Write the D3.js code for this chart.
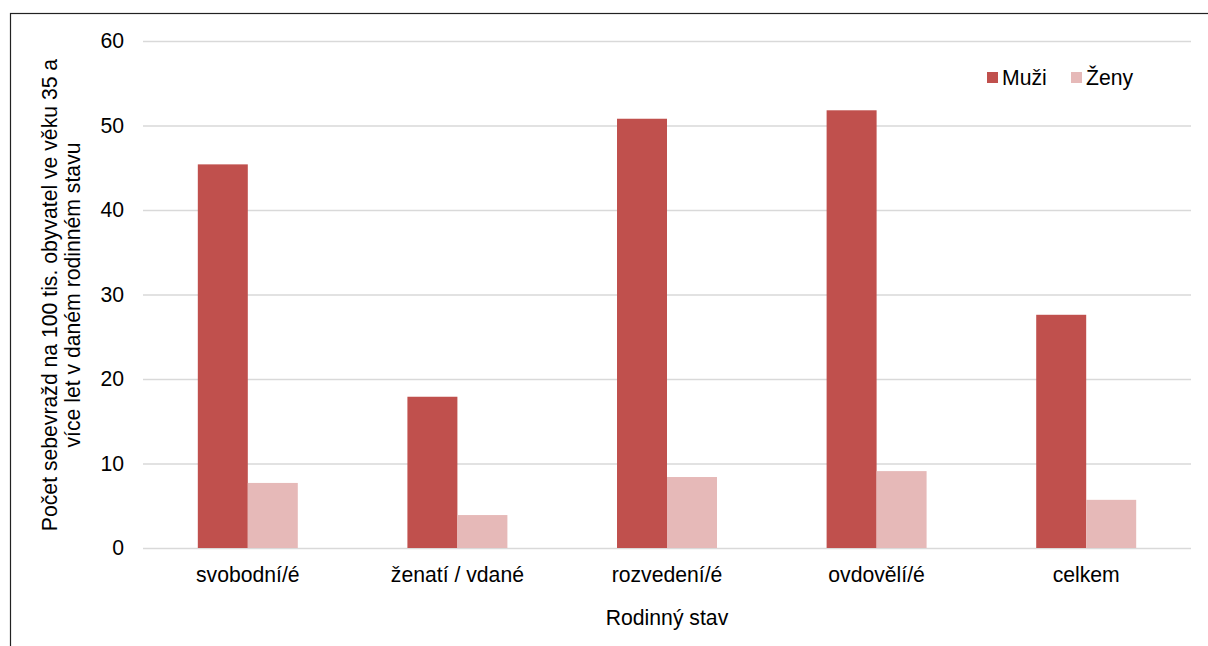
<!DOCTYPE html>
<html lang="cs">
  <head>
    <meta charset="UTF-8" />
    <title>Rodinný stav</title>
    <script src="https://d3js.org/d3.v7.min.js"></script>
    <style>
      body { margin: 0; background: #fff; }
      text { font-family: 'Liberation Sans', Arial, sans-serif; fill: #000; }
    </style>
  </head>
  <body>
    <div id="graph"></div>
    <script>
      // data
      const categories = ['svobodní/é', 'ženatí / vdané', 'rozvedení/é', 'ovdovělí/é', 'celkem']
      const series = ['Muži', 'Ženy']
      const muzi = [45.4, 17.9, 50.8, 51.8, 27.6]
      const zeny = [7.7, 3.9, 8.4, 9.1, 5.7]
      const yTicks = [0, 10, 20, 30, 40, 50, 60]
      const colors = ['#C0504D', '#E6B9B8']

      const W = 1208, H = 646
      const fs = 21.2
      const svg = d3.select('#graph').append('svg').attr('width', W).attr('height', H)

      // frame of the chart area (runs off the right and bottom edges)
      svg.append('rect')
        .attr('x', 10.5).attr('y', 13.5)
        .attr('width', W + 20).attr('height', H + 20)
        .attr('fill', 'none').attr('stroke', '#222').attr('stroke-width', 1.2)

      const pLeft = 143, pRight = 1191, pTop = 41, pBottom = 548

      const x0 = d3.scaleBand().domain(categories).range([pLeft, pRight])
        .paddingInner(0.523).paddingOuter(0.2615)
      const x1 = d3.scaleBand().domain(series).range([0, x0.bandwidth()])
      const y = d3.scaleLinear().domain([0, 60]).range([pBottom, pTop])

      // grid
      const yAxis = d3.axisLeft(y).tickValues(yTicks).tickSize(-(pRight - pLeft)).tickPadding(19)
      const gy = svg.append('g').attr('transform', `translate(${pLeft},0)`).call(yAxis)
      gy.select('.domain').remove()
      gy.selectAll('.tick line').attr('stroke', '#D9D9D9').attr('stroke-width', 1.3)
      gy.selectAll('.tick text').attr('font-size', fs).attr('fill', '#000')
        .attr('font-family', "'Liberation Sans', Arial, sans-serif")

      // bars
      const rows = categories.map((c, i) => ({ cat: c, vals: [muzi[i], zeny[i]] }))
      svg.append('g').selectAll('g')
        .data(rows)
        .join('g')
        .attr('transform', (d) => `translate(${x0(d.cat)},0)`)
        .selectAll('rect')
        .data((d) => d.vals.map((v, j) => ({ s: series[j], v, j })))
        .join('rect')
        .attr('x', (d) => x1(d.s))
        .attr('y', (d) => y(d.v))
        .attr('width', x1.bandwidth())
        .attr('height', (d) => y(0) - y(d.v))
        .attr('fill', (d) => colors[d.j])

      // x axis
      const xAxis = d3.axisBottom(x0).tickSize(0).tickPadding(19)
      const gx = svg.append('g').attr('transform', `translate(0,${pBottom})`).call(xAxis)
      gx.select('.domain').remove()
      gx.selectAll('.tick text').attr('font-size', fs).attr('fill', '#000')
        .attr('font-family', "'Liberation Sans', Arial, sans-serif")

      // axis titles
      svg.append('text')
        .attr('x', (pLeft + pRight) / 2).attr('y', 625)
        .attr('text-anchor', 'middle').attr('font-size', fs)
        .text('Rodinný stav')

      const yt = svg.append('text')
        .attr('transform', 'translate(57,295) rotate(-90)')
        .attr('text-anchor', 'middle').attr('font-size', fs)
      yt.append('tspan').attr('x', 0).attr('y', 0).text('Počet sebevražd na 100 tis. obyvatel ve věku 35 a')
      yt.append('tspan').attr('x', 0).attr('y', 23).text('více let v daném rodinném stavu')

      // legend
      const legX = [987, 1071]
      const leg = svg.append('g').selectAll('g').data(series).join('g')
        .attr('transform', (d, i) => `translate(${legX[i]},72)`)
      leg.append('rect').attr('width', 11).attr('height', 11).attr('fill', (d, i) => colors[i])
      leg.append('text').attr('x', 15).attr('y', 12.5).attr('font-size', fs).text((d) => d)
    </script>
  </body>
</html>
